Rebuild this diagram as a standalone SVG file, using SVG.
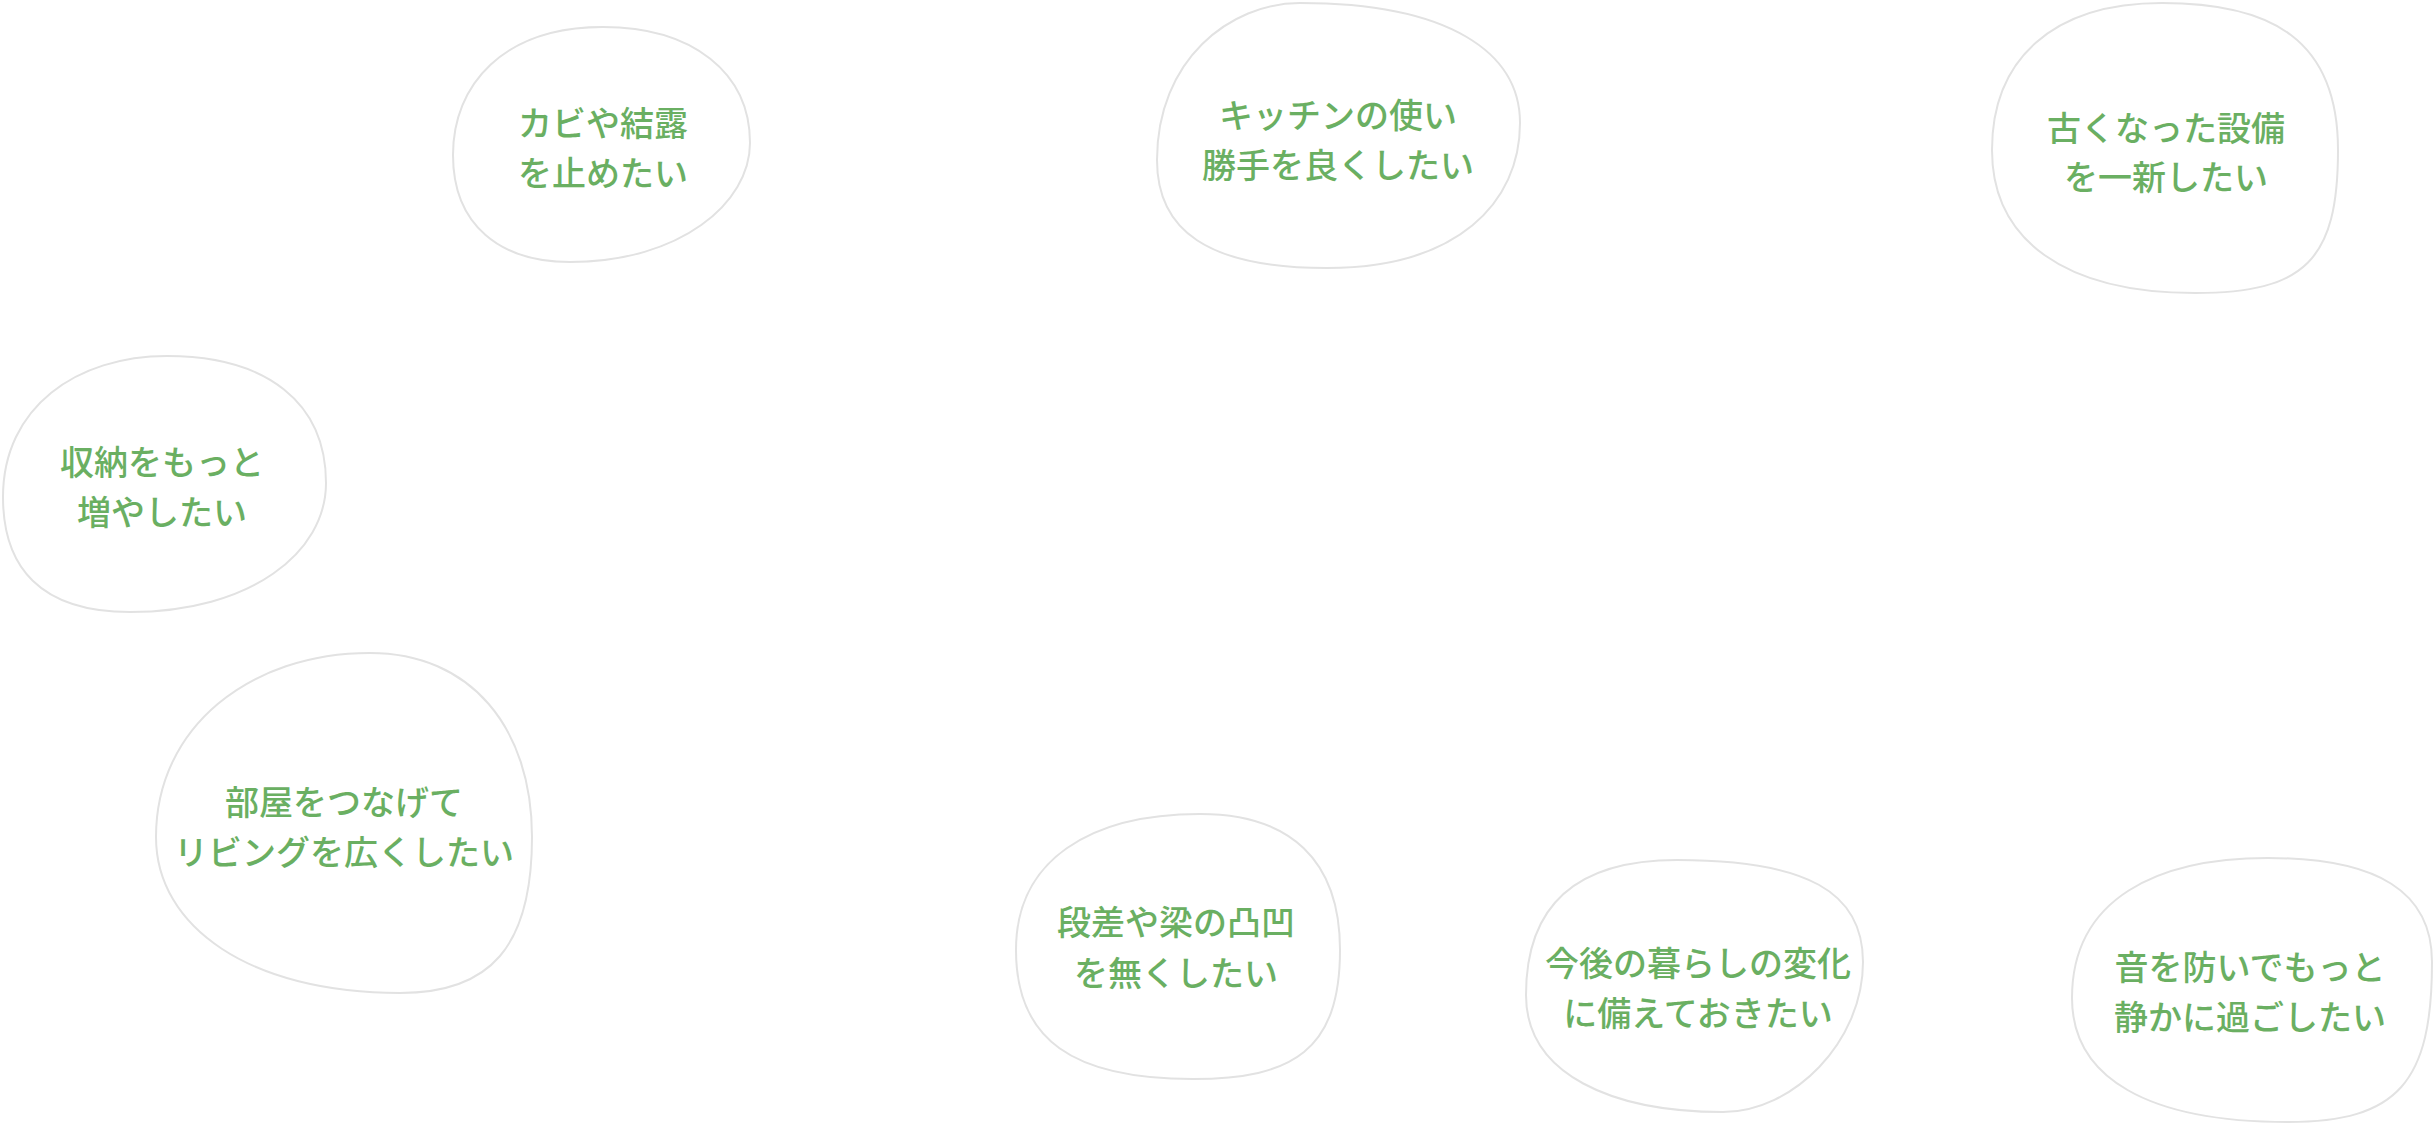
<svg xmlns="http://www.w3.org/2000/svg" width="2434" height="1128" viewBox="0 0 2434 1128">
<style>
.blob{fill:#ffffff;stroke:#e2e2e2;stroke-width:2}
.lbl{fill:#6aaf62;font-family:"Noto Sans CJK JP","Noto Sans CJK SC",sans-serif;font-size:34px;font-weight:500;text-anchor:middle}
</style>
<rect width="2434" height="1128" fill="#ffffff"/>
<g id="connectors"></g>
<g id="n1">
<path class="blob" d="M603,27 C693,27 750,73 750,143 C750,203 680,262 570,262 C500,262 453,225 453,155 C453,85 503,27 603,27 Z"/>
<text class="lbl" x="603" y="135.5">カビや結露</text>
<text class="lbl" x="603" y="185.5">を止めたい</text>
</g>
<g id="n2">
<path class="blob" d="M1300,3 C1450,3 1520,53 1520,123 C1520,203 1457,268 1327,268 C1207,268 1157,230 1157,160 C1157,60 1230,3 1300,3 Z"/>
<text class="lbl" x="1338" y="127.5">キッチンの使い</text>
<text class="lbl" x="1338" y="177.5">勝手を良くしたい</text>
</g>
<g id="n3">
<path class="blob" d="M2162,3 C2272,3 2338,40 2338,150 C2338,260 2305,293 2195,293 C2065,293 1992,240 1992,150 C1992,60 2052,3 2162,3 Z"/>
<text class="lbl" x="2166" y="140.5">古くなった設備</text>
<text class="lbl" x="2166" y="189.5">を一新したい</text>
</g>
<g id="n4">
<path class="blob" d="M167,356 C267,356 326,403 326,483 C326,553 250,612 130,612 C40,612 3,567 3,497 C3,407 77,356 167,356 Z"/>
<text class="lbl" x="162" y="474.5">収納をもっと</text>
<text class="lbl" x="162" y="524.5">増やしたい</text>
</g>
<g id="n5">
<path class="blob" d="M370,653 C470,653 532,727 532,837 C532,947 490,993 400,993 C250,993 156,927 156,837 C156,727 250,653 370,653 Z"/>
<text class="lbl" x="344" y="814.5">部屋をつなげて</text>
<text class="lbl" x="344" y="864.5">リビングを広くしたい</text>
</g>
<g id="n6">
<path class="blob" d="M1200,814 C1290,814 1340,860 1340,950 C1340,1050 1293,1079 1193,1079 C1073,1079 1016,1040 1016,950 C1016,860 1090,814 1200,814 Z"/>
<text class="lbl" x="1176" y="934.5">段差や梁の凸凹</text>
<text class="lbl" x="1176" y="985.5">を無くしたい</text>
</g>
<g id="n7">
<path class="blob" d="M1677,860 C1807,860 1863,892 1863,962 C1863,1042 1793,1112 1723,1112 C1613,1112 1526,1075 1526,995 C1526,905 1577,860 1677,860 Z"/>
<text class="lbl" x="1698" y="975.5">今後の暮らしの変化</text>
<text class="lbl" x="1698" y="1025.5">に備えておきたい</text>
</g>
<g id="n8">
<path class="blob" d="M2268,858 C2378,858 2432,892 2432,962 C2432,1082 2398,1122 2288,1122 C2148,1122 2072,1078 2072,998 C2072,898 2158,858 2268,858 Z"/>
<text class="lbl" x="2250" y="979.5">音を防いでもっと</text>
<text class="lbl" x="2250" y="1029.5">静かに過ごしたい</text>
</g>
</svg>
